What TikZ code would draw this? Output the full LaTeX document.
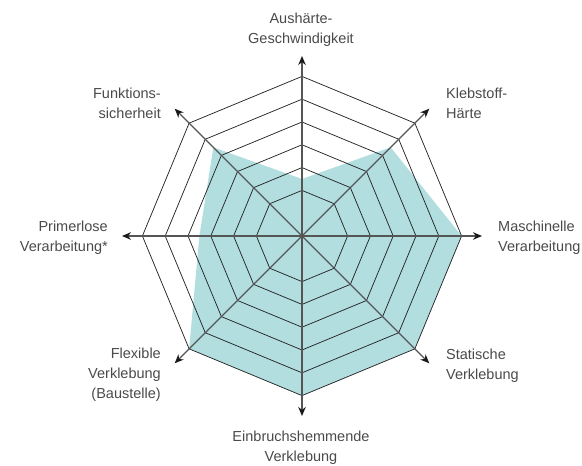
\documentclass[tikz,border=0pt]{standalone}
\usepackage{fontspec}
\setmainfont{Liberation Sans}
\usetikzlibrary{arrows.meta}
\definecolor{fillteal}{HTML}{B2DEE0}
\definecolor{labelgray}{HTML}{4A4A4A}
\definecolor{axisgray}{HTML}{555555}
\begin{document}
\begin{tikzpicture}[x=1pt,y=1pt,
  ring/.style={draw=black!85, line width=0.75pt, line join=miter},
  axisline/.style={draw=axisgray, line width=1.2pt,
    -{Stealth[length=9pt,width=7.5pt,color=black!90]}},
  lbl/.style={font=\fontsize{14.5}{20}\selectfont, text=labelgray, inner sep=0pt},
]
\useasboundingbox (-302,-230) rectangle (280,236);
\def\u{22.8pt}
\coordinate (O) at (0,0);

% value polygon
\fill[fillteal] (90:2.5*\u) -- (45:5.5*\u) -- (0:7*\u) -- (-45:7*\u)
  -- (-90:7*\u) -- (-135:7*\u) -- (180:4.5*\u) -- (135:5.5*\u) -- cycle;

% scale rings
\foreach \k in {2,...,7}
  \draw[ring] (0:\k*\u) \foreach \a in {45,90,...,315}{ -- (\a:\k*\u)} -- cycle;

% axes
\foreach \a/\n in {90/n,45/ne,0/e,-45/se,-90/s,-135/sw,180/w,135/nw}{
  \coordinate (tip\n) at (\a:180pt);
  \draw[axisline] (O) -- (tip\n);
}

% axis labels
\node[lbl, align=center] (lN) at (-1,206.5) {Aushärte-\\Geschwindigkeit};
\node[lbl, align=left, anchor=west] (lNE) at (144,133) {Klebstoff-\\Härte};
\node[lbl, align=left, anchor=west] (lE) at (196,-1.5) {Maschinelle\\Verarbeitung};
\node[lbl, align=left, anchor=west] (lSE) at (144,-130) {Statische\\Verklebung};
\node[lbl, align=center] (lS) at (-1,-212) {Einbruchshemmende\\Verklebung};
\node[lbl, align=right, anchor=east] (lSW) at (-141,-138.5) {Flexible\\Verklebung\\(Baustelle)};
\node[lbl, align=right, anchor=east] (lW) at (-194,-1.5) {Primerlose\\Verarbeitung*};
\node[lbl, align=right, anchor=east] (lNW) at (-141,133) {Funktions-\\sicherheit};
\end{tikzpicture}
\end{document}
